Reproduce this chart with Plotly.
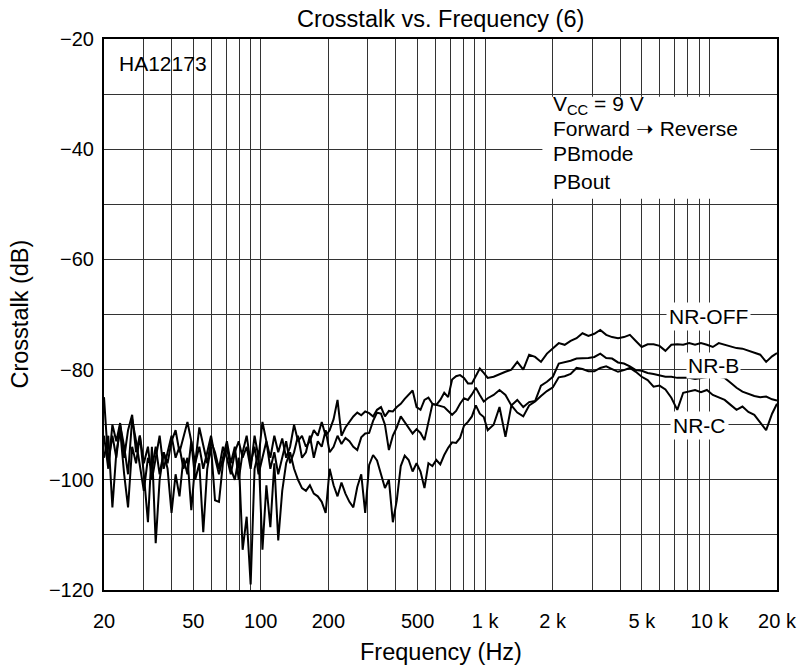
import plotly.graph_objects as go

# Measurement frequencies (Hz)
FREQ_HZ = [
    20, 20.9, 21.8, 22.7, 23.6, 24.6, 25.6, 26.7, 27.8, 28.9,
    30.1, 31.4, 32.7, 34.0, 35.4, 36.9, 38.4, 40.0, 41.7, 43.4,
    45.2, 47.1, 49.0, 51.0, 53.2, 55.4, 57.7, 60.0, 62.5, 65.1,
    67.8, 70.6, 73.5, 76.6, 79.7, 83.0, 86.5, 90.1, 93.8, 97.7,
    101.7, 105.9, 110.3, 114.9, 119.6, 124.6, 129.7, 135.1, 140.7, 146.5,
    152.6, 158.9, 165.5, 172.3, 179.5, 186.9, 194.6, 202.7, 211.1, 219.8,
    228.9, 238.4, 248.3, 258.5, 269.2, 280.4, 292.0, 304.1, 316.6, 329.7,
    343.4, 357.6, 372.4, 387.8, 403.9, 420.6, 438.0, 456.1, 475.0, 494.7,
    515.2, 536.5, 558.7, 581.8, 605.9, 631.0, 657.1, 684.3, 712.6, 742.1,
    772.9, 804.9, 838.2, 872.9, 909.0, 946.7, 985.9, 1026.7,
    1091, 1159, 1232, 1309, 1391, 1479, 1571, 1670, 1774, 1886,
    2004, 2129, 2263, 2405, 2556, 2716, 2886, 3067, 3260, 3464,
    3681, 3912, 4157, 4418, 4695, 4989, 5302, 5634, 5988, 6363,
    6762, 7186, 7637, 8116, 8624, 9165, 9740, 10350, 10999, 11689,
    12422, 13201, 14028, 14908, 15843, 16836, 17892, 19013, 20000,
]

# Crosstalk (dB), NR off
NR_OFF = [
    -85, -97, -92, -96, -90, -94, -99, -89, -93, -97,
    -102, -96, -98, -94, -99, -95, -97, -93, -91, -95,
    -92, -89.5, -93, -97, -90.5, -94, -97, -93, -95, -98,
    -94, -96, -99, -95, -93, -96, -94, -98, -92, -96,
    -89.5, -93, -96, -92, -95, -92.5, -96, -94, -90, -93,
    -92, -94, -93, -91, -92, -89.5, -92, -91, -89, -85.5,
    -92, -90.5, -89.5, -88.5, -87.8, -88.3, -87.6, -87.9, -88.5, -87.3,
    -86.8, -88.5, -87.5, -87.6, -86.8, -86.2, -85.3, -84.5, -83.8, -86.8,
    -87.3, -85.5, -85.1, -86.2, -86.4, -85.5, -84.2, -85, -81.8, -81.2,
    -81, -81.5, -82.5, -82.5, -81, -79.8, -80.6, -81.5,
    -81.3, -80.8, -80.4, -80.0, -78.6, -80.0, -77.3, -77.7, -78.6, -77.1,
    -76.1, -75.2, -75.5, -74.8, -74.3, -73.4, -73.9, -73.5, -72.8, -73.7,
    -74.1, -74.3, -74.1, -73.7, -74.8, -75.9, -75.4, -75.4, -75.7, -76.6,
    -75.5, -75.4, -75.5, -75.2, -75.5, -75.2, -75.5, -75.9, -75.2, -75.5,
    -75.9, -76.1, -76.2, -76.6, -77.0, -77.3, -78.6, -77.6, -77.0,
]

# Crosstalk (dB), Dolby B NR
NR_B = [
    -92, -98, -90, -93, -89.7, -96, -91, -88.2, -95, -92,
    -97, -94, -100, -96, -92, -98, -95, -92, -96, -94,
    -98, -96, -105.5, -97, -94, -98, -95, -92, -96, -99,
    -96, -93, -97, -94, -100, -95, -92, -97, -94, -99,
    -96, -93, -98, -95, -99, -96, -93, -97, -95, -92,
    -96, -95, -92, -96, -93, -94, -91, -95, -94, -92,
    -93.5, -92.4, -93, -94, -94.6, -92.3, -91.6, -91.5, -89.3, -87.8,
    -88, -90, -94.6, -92, -90.5, -88.5, -89.5, -90.6, -91.6, -90.8,
    -91.5, -92.8, -89.5, -86.3, -86.4, -86.6, -86.8, -87.5, -88.2, -87.5,
    -86.2, -85.2, -85.5, -84.5, -83.3, -84.6, -85.8, -85.2,
    -84.6, -83.7, -84.6, -86.5, -85.5, -86.8, -85.9, -85.7, -82.9, -82.2,
    -81.3, -78.9, -78.7, -78.4, -78.0, -78.0, -77.9, -77.7, -77.1, -77.9,
    -78.0, -78.7, -78.9, -79.4, -80.1, -80.2, -80.6, -80.8, -81.1, -81.3,
    -81.3, -81.5, -81.5, -81.5, -81.7, -81.5, -81.3, -81.2, -81.3, -81.5,
    -82.4, -83.3, -84.0, -84.4, -84.8, -85.0, -84.9, -85.4, -85.6,
]

# Crosstalk (dB), Dolby C NR
NR_C = [
    -96, -92, -105, -95, -91, -99, -105, -94, -97, -92,
    -99, -107.7, -94, -111.5, -100, -95, -98, -106, -99, -103,
    -96, -99, -93, -100, -97, -109.5, -98, -94, -103.7, -104,
    -97, -94, -98, -100, -96, -112.7, -106.7, -119, -98, -95,
    -112.7, -101, -108.6, -97, -111, -102, -97, -95, -98, -100,
    -101.5, -102, -101, -102.5, -103, -104, -106, -98, -101, -103,
    -100.5, -102.5, -104, -105, -101.3, -99, -106, -97.3, -95.5, -96.5,
    -99, -101.5, -100, -107.7, -103.7, -97.5, -95.6, -96.4, -98.5, -97,
    -98.5, -101.5, -97, -97.5, -96.4, -97.2, -95.5, -94.2, -93.2, -93.3,
    -92.4, -90.2, -89.5, -88.5, -86.5, -88, -88.6, -91,
    -90.0, -86.8, -92.2, -86.5, -87.8, -88.5, -86.5, -85.8, -84.8, -83.9,
    -83.2, -81.4, -81.2, -80.8, -79.7, -79.9, -80.3, -80.3, -79.7, -79.4,
    -79.9, -80.4, -80.1, -79.7, -80.4, -81.3, -81.9, -83.1, -82.9, -83.6,
    -85.1, -87.3, -84.2, -83.9, -83.7, -84.1, -83.7, -84.6, -85.1, -85.5,
    -86.4, -87.3, -86.7, -87.7, -88.2, -89.5, -91.0, -88.0, -86.2,
]

# Labelled ticks and unlabelled grid positions
X_TICKS = [20, 50, 100, 200, 500, 1000, 2000, 5000, 10000, 20000]
X_TICK_TEXT = ["20", "50", "100", "200", "500", "1 k", "2 k", "5 k", "10 k", "20 k"]
X_MINOR = [30, 40, 60, 70, 80, 90, 300, 400, 600, 700, 800, 900,
           3000, 4000, 6000, 7000, 8000, 9000]
Y_TICKS = [-120, -100, -80, -60, -40, -20]
Y_TICK_TEXT = ["\u2212120", "\u2212100", "\u221280", "\u221260", "\u221240", "\u221220"]
Y_MINOR = [-110, -90, -70, -50, -30]

FONT = "Liberation Sans, Arial, Helvetica, sans-serif"
INK = "#000000"
GRID = "#333333"

fig = go.Figure()
for series in (NR_OFF, NR_B, NR_C):
    fig.add_trace(go.Scatter(
        x=FREQ_HZ, y=series, mode="lines",
        line=dict(color=INK, width=2), showlegend=False, hoverinfo="skip",
    ))

# white panel behind the test-condition text
fig.add_shape(type="rect", xref="x", yref="y", layer="between",
              x0=1800, x1=15200, y0=-49.0, y1=-30.5,
              fillcolor="white", line=dict(width=0))

fig.update_xaxes(
    type="log", range=[1.30103, 4.30103],
    tickmode="array", tickvals=X_TICKS, ticktext=X_TICK_TEXT,
    showgrid=True, gridcolor=GRID, gridwidth=1,
    minor=dict(tickmode="array", tickvals=X_MINOR, showgrid=True,
               gridcolor=GRID, gridwidth=1, ticks=""),
    showline=True, linecolor=INK, linewidth=2, mirror=True,
    ticks="", zeroline=False, ticklabelstandoff=12,
    tickfont=dict(family=FONT, size=20, color=INK),
)
fig.update_yaxes(
    range=[-120, -20],
    tickmode="array", tickvals=Y_TICKS, ticktext=Y_TICK_TEXT,
    showgrid=True, gridcolor=GRID, gridwidth=1,
    minor=dict(tickmode="array", tickvals=Y_MINOR, showgrid=True,
               gridcolor=GRID, gridwidth=1, ticks=""),
    showline=True, linecolor=INK, linewidth=2, mirror=True,
    ticks="", zeroline=False, ticklabelstandoff=4,
    tickfont=dict(family=FONT, size=20, color=INK),
)

big = dict(family=FONT, size=23.5, color=INK)
lab = dict(family=FONT, size=21, color=INK)
# annotation x on a log axis is given in log10(Hz)
annotations = [
    dict(text="Crosstalk vs. Frequency (6)", xref="paper", yref="paper",
         x=0.5, y=1, yshift=20, showarrow=False, yanchor="middle", font=big),
    dict(text="Frequency (Hz)", xref="paper", yref="paper",
         x=0.5, y=0, yshift=-62, showarrow=False, yanchor="middle", font=big),
    dict(text="Crosstalk (dB)", xref="paper", yref="paper", textangle=-90,
         x=0, xshift=-85, y=0.5, showarrow=False, xanchor="center", font=big),
    dict(text="HA12173", xref="x", yref="y", x=1.3604, y=-24.4,
         xanchor="left", showarrow=False, font=lab),
    dict(text="V<sub>CC</sub> = 9 V", xref="x", yref="y", x=3.2927, y=-32.0,
         xanchor="left", showarrow=False, font=lab),
    dict(text="Forward \u279D Reverse", xref="x", yref="y", x=3.2927, y=-36.3,
         xanchor="left", showarrow=False, font=lab),
    dict(text="PBmode", xref="x", yref="y", x=3.2927, y=-40.8,
         xanchor="left", showarrow=False, font=lab),
    dict(text="PBout", xref="x", yref="y", x=3.2927, y=-45.9,
         xanchor="left", showarrow=False, font=lab),
    dict(text="NR-OFF", xref="x", yref="y", x=3.9969, y=-70.3,
         showarrow=False, font=lab, bgcolor="white", borderpad=2),
    dict(text="NR-B", xref="x", yref="y", x=4.0180, y=-79.2,
         showarrow=False, font=lab, bgcolor="white", borderpad=1),
    dict(text="NR-C", xref="x", yref="y", x=3.9560, y=-90.2,
         showarrow=False, font=lab, bgcolor="white", borderpad=2),
]

fig.update_layout(
    width=809, height=671,
    margin=dict(l=104, r=25, t=39, b=81),
    paper_bgcolor="white", plot_bgcolor="white",
    font=dict(family=FONT, color=INK),
    annotations=annotations,
)

fig.write_html("out.html")
